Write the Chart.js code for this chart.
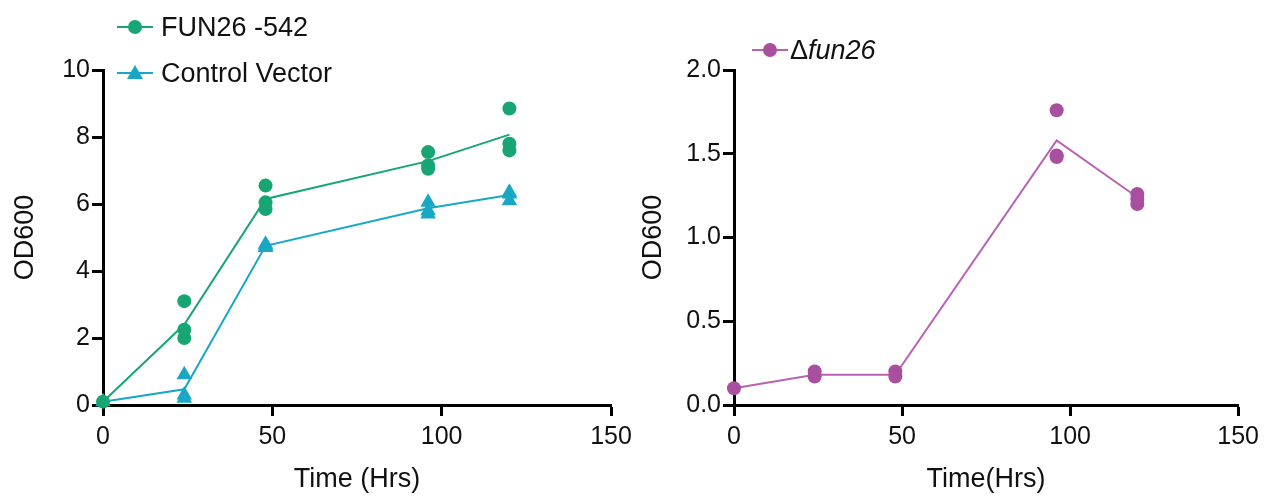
<!DOCTYPE html>
<html lang="en">
<head>
  <meta charset="UTF-8" />
  <title>OD600 growth curves</title>
  <script src="https://cdn.jsdelivr.net/npm/chart.js"></script>
  <style>
    body { margin: 0; background: #fff; font-family: "Liberation Sans", Arial, sans-serif; }
    .wrap { position: relative; width: 1265px; height: 496px; overflow: hidden; }
    .box { position: absolute; top: 0; height: 496px; }
    #leftBox  { left: 0;   width: 640px; }
    #rightBox { left: 630px; width: 635px; }
    .legend { position: absolute; font-size: 27px; color: #111; white-space: nowrap; }
    .legend .item { position: absolute; left: 0; height: 30px; line-height: 30px; }
    .legend .mk { position: absolute; left: 0; top: 0; width: 36px; height: 30px; }
    .legend .mk .ln { position: absolute; left: 0; top: 14px; width: 36px; height: 2px; }
    .legend .mk .dot { position: absolute; left: 11px; top: 8px; width: 14px; height: 14px; border-radius: 50%; }
    .legend .mk .tri { position: absolute; left: 10px; top: 7px; width: 0; height: 0;
      border-left: 8px solid transparent; border-right: 8px solid transparent; border-bottom: 14px solid; }
    .legend .txt { position: absolute; left: 44px; top: 0; }
  </style>
</head>
<body>
<div class="wrap">
  <div class="box" id="leftBox"><canvas id="leftChart"></canvas></div>
  <div class="box" id="rightBox"><canvas id="rightChart"></canvas></div>

  <!-- legends -->
  <div class="legend" style="left:117px; top:12px;">
    <div class="item" style="top:0;">
      <div class="mk"><div class="ln" style="background:#17a673"></div><div class="dot" style="background:#17a673"></div></div>
      <span class="txt">FUN26 -542</span>
    </div>
    <div class="item" style="top:46px;">
      <div class="mk"><div class="ln" style="background:#18a7c4"></div><div class="tri" style="border-bottom-color:#18a7c4"></div></div>
      <span class="txt">Control Vector</span>
    </div>
  </div>
  <div class="legend" style="left:752px; top:35px;">
    <div class="item" style="top:0;">
      <div class="mk"><div class="ln" style="background:#b863b2"></div><div class="dot" style="background:#a94fa0"></div></div>
      <span class="txt" style="left:38px;">&Delta;<i>fun26</i></span>
    </div>
  </div>
</div>

<script>
// time points (hours)
const times = [0, 24, 48, 96, 120];

// FUN26-542: replicate readings and mean line
const funReps = [[0.1], [3.1, 2.25, 2.0], [6.55, 6.05, 5.85], [7.55, 7.15, 7.05], [8.85, 7.8, 7.6]];
const funMean = [0.1, 2.4, 6.15, 7.28, 8.07];

// Control Vector
const ctrlReps = [[0.1], [0.9, 0.3, 0.2], [4.8, 4.75, 4.7], [6.05, 5.8, 5.7], [6.35, 6.3, 6.1]];
const ctrlMean = [0.1, 0.47, 4.75, 5.87, 6.27];

// delta fun26
const delReps = [[0.1], [0.2, 0.17], [0.2, 0.17], [1.76, 1.48, 1.49], [1.26, 1.23, 1.2]];
const delMean = [0.1, 0.18, 0.18, 1.58, 1.24];

// axis ticks
const xTicks = [0, 50, 100, 150];
const leftYTicks = [0, 2, 4, 6, 8, 10];
const rightYTicks = [0, 0.5, 1.0, 1.5, 2.0];

const GREEN = '#17a673', CYAN = '#18a7c4', PURPLE = '#a94fa0', PURPLE_LN = '#b863b2';

Chart.defaults.font.family = '"Liberation Sans", Arial, sans-serif';
Chart.defaults.color = '#111';

function repPoints(reps) {
  const pts = [];
  reps.forEach((vals, i) => vals.forEach(v => pts.push({ x: times[i], y: v })));
  return pts;
}
function meanPoints(mean) {
  return mean.map((v, i) => ({ x: times[i], y: v }));
}

function axisCommon() {
  return {
    type: 'linear',
    border: { display: true, color: '#000', width: 3 },
    grid: { drawOnChartArea: false, drawTicks: true, tickLength: 11, tickWidth: 3, tickColor: '#000' },
    ticks: { font: { size: 25 }, color: '#111' }
  };
}

function makeChart(id, datasets, yMax, yTicks, yFmt, yWidth, xTitle, yTitlePad, padRight) {
  const x = axisCommon();
  x.min = 0; x.max = 150;
  x.afterBuildTicks = a => { a.ticks = xTicks.map(v => ({ value: v })); };
  x.ticks.padding = 6;
  x.title = { display: true, text: xTitle, font: { size: 27 }, color: '#111', padding: { top: 0, bottom: 0 } };
  x.afterFit = s => { s.height = 91; };

  const y = axisCommon();
  y.min = 0; y.max = yMax;
  y.afterBuildTicks = a => { a.ticks = yTicks.map(v => ({ value: v })); };
  y.ticks.padding = 2;
  y.ticks.callback = yFmt;
  y.title = { display: true, text: 'OD600', font: { size: 27 }, color: '#111', padding: { top: yTitlePad, bottom: 0 } };
  y.afterFit = s => { s.width = yWidth; };

  return new Chart(document.getElementById(id), {
    type: 'scatter',
    data: { datasets: datasets },
    options: {
      responsive: true,
      maintainAspectRatio: false,
      animation: false,
      layout: { padding: { left: 0, top: 70, right: padRight, bottom: 0 } },
      plugins: { legend: { display: false }, tooltip: { enabled: false } },
      scales: { x: x, y: y }
    }
  });
}

makeChart('leftChart', [
  { data: repPoints(funReps), backgroundColor: GREEN, borderColor: GREEN, pointStyle: 'circle', pointRadius: 7, borderWidth: 0, clip: false, order: 1 },
  { data: meanPoints(funMean), showLine: true, borderColor: GREEN, borderWidth: 2, pointRadius: 0, clip: false, order: 2 },
  { data: repPoints(ctrlReps), backgroundColor: CYAN, borderColor: CYAN, pointStyle: 'triangle', pointRadius: 9, borderWidth: 0, clip: false, order: 3 },
  { data: meanPoints(ctrlMean), showLine: true, borderColor: CYAN, borderWidth: 2, pointRadius: 0, clip: false, order: 4 }
], 10, leftYTicks, v => String(v), 103, 'Time (Hrs)', 9, 29);

makeChart('rightChart', [
  { data: repPoints(delReps), backgroundColor: PURPLE, borderColor: PURPLE, pointStyle: 'circle', pointRadius: 7, borderWidth: 0, clip: false, order: 1 },
  { data: meanPoints(delMean), showLine: true, borderColor: PURPLE_LN, borderWidth: 2, pointRadius: 0, clip: false, order: 2 }
], 2.0, rightYTicks, v => Number(v).toFixed(1), 104, 'Time(Hrs)', 7, 26);
</script>
</body>
</html>
